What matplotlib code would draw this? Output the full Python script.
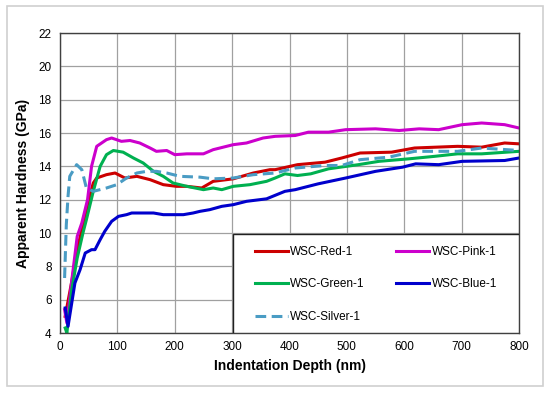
import matplotlib.pyplot as plt
from matplotlib.patches import Rectangle

# Indentation depth (nm) and apparent hardness (GPa)
red_x = [9, 20, 30, 40, 50, 58, 64, 81, 96, 113, 134, 157, 180, 203, 221, 247, 267, 302, 337, 366,
         375, 414, 462, 491, 523, 578, 618, 693, 735, 775, 800]
red_y = [5.0, 7.0, 9.0, 10.5, 12.0, 13.0, 13.3, 13.5, 13.6, 13.3, 13.4, 13.2, 12.9, 12.8, 12.8, 12.7,
         13.1, 13.25, 13.6, 13.8, 13.8, 14.1, 14.25, 14.5, 14.8, 14.85, 15.1, 15.2, 15.15, 15.4, 15.35]

pink_x = [8, 12, 20, 30, 38, 48, 55, 64, 81, 90, 107, 122, 139, 157, 168, 186, 200, 221, 250, 267,
          302, 325, 354, 375, 410, 433, 468, 498, 550, 591, 626, 660, 701, 735, 775, 800]
pink_y = [5.4, 4.6, 7.0, 9.8, 10.6, 12.0, 14.0, 15.2, 15.6, 15.7, 15.5, 15.55, 15.4, 15.1, 14.9, 14.95,
          14.7, 14.75, 14.75, 15.0, 15.3, 15.4, 15.7, 15.8, 15.85, 16.05, 16.05, 16.2, 16.25, 16.15,
          16.25, 16.2, 16.5, 16.6, 16.5, 16.3]

green_x = [9, 12, 20, 30, 40, 46, 58, 70, 81, 93, 110, 128, 145, 163, 180, 197, 221, 250, 267, 282,
           302, 331, 360, 375, 392, 414, 437, 468, 520, 556, 608, 653, 693, 735, 800]
green_y = [4.3, 4.0, 6.5, 8.5, 10.0, 10.8, 12.5, 14.0, 14.7, 14.95, 14.85, 14.5, 14.2, 13.7, 13.4, 13.0,
           12.8, 12.6, 12.7, 12.6, 12.8, 12.9, 13.1, 13.3, 13.55, 13.45, 13.55, 13.85, 14.1, 14.3,
           14.45, 14.6, 14.75, 14.75, 14.9]

blue_x = [9, 14, 26, 35, 44, 55, 61, 70, 78, 90, 102, 116, 125, 139, 163, 180, 215, 232, 244, 261,
          282, 302, 325, 360, 392, 410, 450, 498, 550, 597, 620, 660, 701, 775, 800]
blue_y = [5.5, 4.4, 7.0, 7.8, 8.8, 9.0, 9.0, 9.6, 10.1, 10.7, 11.0, 11.1, 11.2, 11.2, 11.2, 11.1, 11.1,
          11.2, 11.3, 11.4, 11.6, 11.7, 11.9, 12.05, 12.5, 12.6, 12.95, 13.3, 13.7, 13.95, 14.15, 14.1,
          14.3, 14.35, 14.5]

silver_x = [8, 11, 14, 17, 29, 38, 46, 58, 81, 99, 116, 134, 151, 168, 186, 209, 244, 267, 302, 337,
            375, 410, 462, 491, 523, 573, 618, 693, 735, 800]
silver_y = [7.3, 10.5, 12.2, 13.4, 14.1, 13.8, 12.7, 12.5, 12.7, 12.9, 13.3, 13.6, 13.7, 13.7, 13.6,
            13.4, 13.35, 13.25, 13.3, 13.5, 13.6, 13.9, 14.05, 14.05, 14.4, 14.55, 14.9, 14.9, 15.1, 14.95]

x_ticks = [0, 100, 200, 300, 400, 500, 600, 700, 800]
y_ticks = [4, 6, 8, 10, 12, 14, 16, 18, 20, 22]

plt.rcParams['font.family'] = ['Liberation Sans', 'DejaVu Sans']

fig = plt.figure(figsize=(5.5, 3.94), dpi=100)
ax = fig.add_axes([60 / 550, 1 - 333 / 394, 459 / 550, 300 / 394])

# light outer frame
fig.patches.append(Rectangle((7 / 550, 1 - 386 / 394), 536 / 550, 380 / 394,
                             transform=fig.transFigure, fill=False,
                             edgecolor='#d0d0d0', linewidth=1.2))

lw = 2.2
h_red, = ax.plot(red_x, red_y, color='#cc0000', lw=lw, label='WSC-Red-1')
h_pink, = ax.plot(pink_x, pink_y, color='#cc00cc', lw=lw, label='WSC-Pink-1')
h_green, = ax.plot(green_x, green_y, color='#00b050', lw=lw, label='WSC-Green-1')
h_blue, = ax.plot(blue_x, blue_y, color='#0000cc', lw=lw, label='WSC-Blue-1')
h_silver, = ax.plot(silver_x, silver_y, color='#4a9cc4', lw=lw, ls=(0, (3.5, 1.8)),
                    label='WSC-Silver-1')

ax.set_xlim(0, 800)
ax.set_ylim(4, 22)
ax.set_xticks(x_ticks)
ax.set_yticks(y_ticks)
ax.tick_params(length=0, labelsize=8.5, pad=6)
ax.grid(True, color='#a0a0a0', linewidth=0.9)
ax.set_axisbelow(True)
for s in ax.spines.values():
    s.set_color('#404040')
    s.set_linewidth(1.0)

ax.set_xlabel('Indentation Depth (nm)', fontsize=10, fontweight='bold', labelpad=4)
ax.set_ylabel('Apparent Hardness (GPa)', fontsize=10, fontweight='bold', labelpad=6)

# legend box drawn separately, entries placed inside it
ax.add_patch(Rectangle((173 / 459, 0), 286 / 459, 99 / 300, transform=ax.transAxes,
                       facecolor='white', edgecolor='#202020', linewidth=1.0, zorder=4))
leg = ax.legend(handles=[h_red, h_green, h_silver, h_pink, h_blue], ncol=2,
                loc='upper left', bbox_to_anchor=(183 / 459, 0.0, 266 / 459, 99 / 300),
                mode='expand', fontsize=8.5, frameon=False, borderaxespad=0,
                handlelength=2.8, handletextpad=0.2, labelspacing=1.75, borderpad=1.0,
                columnspacing=1.5)
leg.set_zorder(5)

fig.savefig('out.png', dpi=100)
